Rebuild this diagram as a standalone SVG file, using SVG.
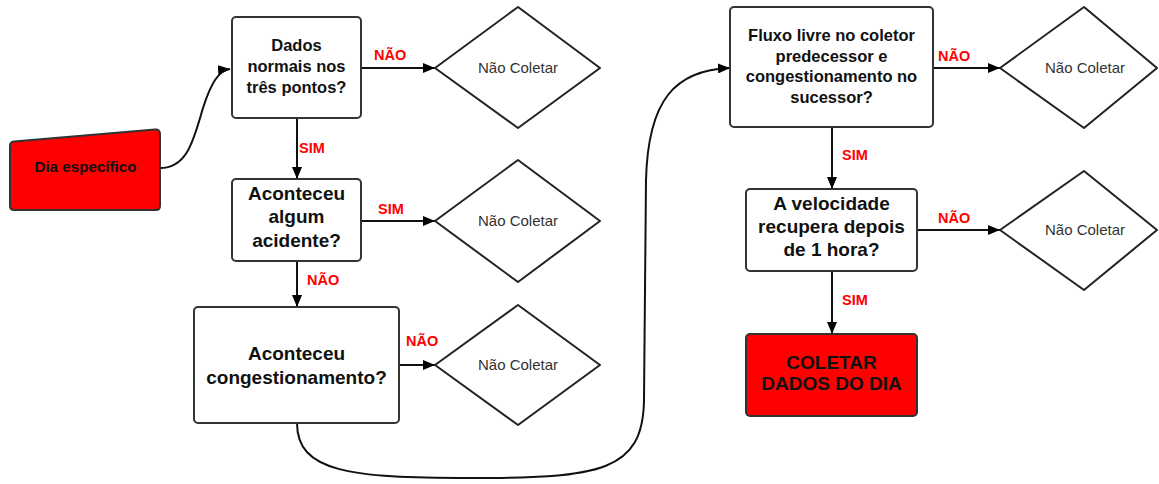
<svg xmlns="http://www.w3.org/2000/svg" width="1159" height="484" viewBox="0 0 1159 484">
<style>
.box{fill:#fff;stroke:#333;stroke-width:2}
.red{fill:#ff0000;stroke:#333;stroke-width:2}
.dia{fill:#fff;stroke:#222;stroke-width:2;stroke-linejoin:round}
.t{font-family:"Liberation Sans",Arial,sans-serif;font-weight:bold;fill:#111;text-anchor:middle}
.d{font-family:"Liberation Sans",Arial,sans-serif;font-size:15px;fill:#333;text-anchor:middle}
.lbl{font-family:"Liberation Sans",Arial,sans-serif;font-weight:bold;font-size:14.5px;fill:#ff0000}
.c{fill:none;stroke:#111;stroke-width:2;marker-end:url(#arr)}
</style>
<defs>
<marker id="arr" viewBox="0 0 12 10" refX="12" refY="5" markerWidth="12" markerHeight="10" markerUnits="userSpaceOnUse" orient="auto"><path d="M0,0 L12,5 L0,10 z" fill="#000"/></marker>
</defs>
<g id="connectors">
<path class="c" d="M160,168 C188,168 194,138 203,108 C211,83 219,70 230,69"/>
<path class="c" d="M361,68 L435,68"/>
<path class="c" d="M297,118 L297,179"/>
<path class="c" d="M361,221 L435,221"/>
<path class="c" d="M297,261 L297,307"/>
<path class="c" d="M399,365 L435,365"/>
<path class="c" d="M297,423 C297,472 350,478 470,478 C600,478 643,472 644,400 L646,180 C648,100 675,70 730,68"/>
<path class="c" d="M933,68 L1000,68"/>
<path class="c" d="M832,127 L832,189"/>
<path class="c" d="M917,230 L1000,230"/>
<path class="c" d="M832,271 L832,334"/>
</g>
<g id="labels">
<text class="lbl" x="374" y="60">NÃO</text>
<text class="lbl" x="299" y="153">SIM</text>
<text class="lbl" x="378" y="214">SIM</text>
<text class="lbl" x="307" y="285">NÃO</text>
<text class="lbl" x="406" y="346">NÃO</text>
<text class="lbl" x="938" y="61">NÃO</text>
<text class="lbl" x="842" y="160">SIM</text>
<text class="lbl" x="938" y="223">NÃO</text>
<text class="lbl" x="842" y="305">SIM</text>
</g>
<g id="n-dia">
<path class="red" d="M14,141.5 L155,129.5 Q160,129 160,134 L160,206 Q160,210 156,210 L14,210 Q10,210 10,206 L10,146 Q10,142 14,141.5 Z"/>
<text class="t" x="85.5" y="172" font-size="15.2">Dia específico</text>
</g>
<g id="n-dados">
<rect class="box" x="232" y="17" width="129" height="101" rx="4"/>
<text class="t" font-size="16.5"><tspan x="296.5" y="51">Dados</tspan><tspan x="296.5" y="72">normais nos</tspan><tspan x="296.5" y="93">três pontos?</tspan></text>
</g>
<g id="n-d1">
<polygon class="dia" points="435,68 518,7 600,68 518,128"/>
<text class="d" x="518" y="73">Não Coletar</text>
</g>
<g id="n-acidente">
<rect class="box" x="232" y="179" width="129" height="82" rx="4"/>
<text class="t" font-size="19"><tspan x="296.5" y="200">Aconteceu</tspan><tspan x="296.5" y="223">algum</tspan><tspan x="296.5" y="247">acidente?</tspan></text>
</g>
<g id="n-d2">
<polygon class="dia" points="435,221 518,160 600,221 518,282"/>
<text class="d" x="518" y="226">Não Coletar</text>
</g>
<g id="n-cong">
<rect class="box" x="194" y="307" width="205" height="116" rx="4"/>
<text class="t" font-size="19"><tspan x="296.5" y="360">Aconteceu</tspan><tspan x="296.5" y="384">congestionamento?</tspan></text>
</g>
<g id="n-d3">
<polygon class="dia" points="435,365 518,305 600,365 518,425"/>
<text class="d" x="518" y="370">Não Coletar</text>
</g>
<g id="n-fluxo">
<rect class="box" x="730" y="7" width="203" height="120" rx="4"/>
<text class="t" font-size="16.5"><tspan x="831.5" y="41">Fluxo livre no coletor</tspan><tspan x="831.5" y="61.5">predecessor e</tspan><tspan x="831.5" y="82">congestionamento no</tspan><tspan x="831.5" y="103">sucessor?</tspan></text>
</g>
<g id="n-d4">
<polygon class="dia" points="1000,68 1084,7 1157,68 1084,128"/>
<text class="d" x="1085" y="73">Não Coletar</text>
</g>
<g id="n-vel">
<rect class="box" x="746" y="189" width="171" height="82" rx="4"/>
<text class="t" font-size="19"><tspan x="831.5" y="210">A velocidade</tspan><tspan x="831.5" y="233">recupera depois</tspan><tspan x="831.5" y="256">de 1 hora?</tspan></text>
</g>
<g id="n-d5">
<polygon class="dia" points="1000,230 1084,171 1157,230 1084,290"/>
<text class="d" x="1085" y="235">Não Coletar</text>
</g>
<g id="n-coletar">
<rect class="red" x="746" y="334" width="171" height="82" rx="4"/>
<text class="t" font-size="19"><tspan x="831.5" y="369">COLETAR</tspan><tspan x="831.5" y="390">DADOS DO DIA</tspan></text>
</g>
</svg>
